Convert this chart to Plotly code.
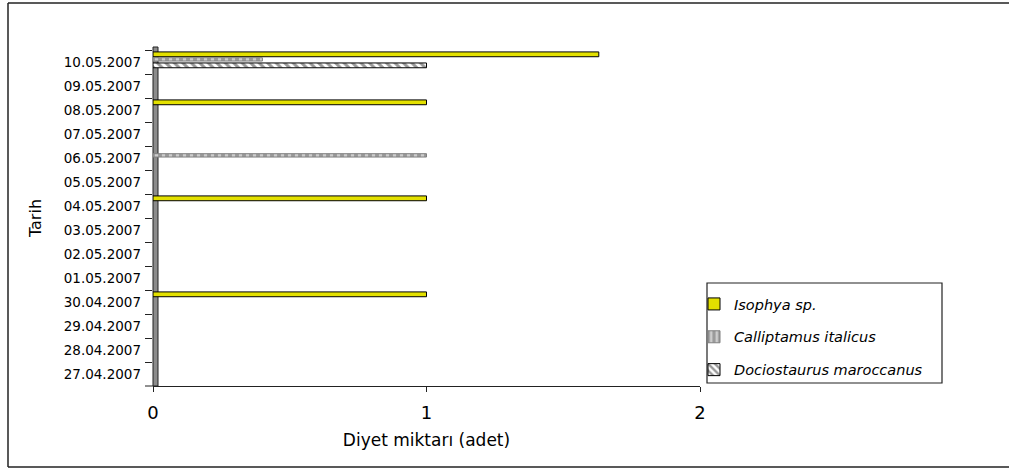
import plotly.graph_objects as go

# Categories (top to bottom as displayed)
dates = ["10.05.2007", "09.05.2007", "08.05.2007", "07.05.2007", "06.05.2007",
         "05.05.2007", "04.05.2007", "03.05.2007", "02.05.2007", "01.05.2007",
         "30.04.2007", "29.04.2007", "28.04.2007", "27.04.2007"]
isophya = [1.63, None, 1, None, None, None, 1, None, None, None, 1, None, None, None]
calliptamus = [0.4, None, None, None, 1, None, None, None, None, None, None, None, None, None]
dociostaurus = [1, None, None, None, None, None, None, None, None, None, None, None, None, None]
series_names = ["Isophya sp.", "Calliptamus italicus", "Dociostaurus maroccanus"]
x_ticks = [0, 1, 2]

L, R, T, B = 153, 700, 50, 386
W, H = 1009, 468
def px_x(p): return (p - L) / (R - L)
def px_y(p): return (B - p) / (B - T)

fig = go.Figure()
fig.add_trace(go.Bar(
    y=dates, x=isophya, orientation="h", name=series_names[0],
    width=0.2, offset=-0.42, legendgroup="a",
    marker=dict(color="#E3E000", line=dict(color="#000000", width=1)),
))
fig.add_trace(go.Bar(
    y=dates, x=calliptamus, orientation="h", name=series_names[1],
    width=0.14, offset=-0.18, legendgroup="b",
    marker=dict(color="#D8D8D8", line=dict(color="#808080", width=1),
                pattern=dict(shape="|", fgcolor="#FFFFFF", bgcolor="#9A9A9A", size=7, solidity=0.45)),
))
fig.add_trace(go.Bar(
    y=dates, x=dociostaurus, orientation="h", name=series_names[2],
    width=0.2, offset=0.04, legendgroup="c",
    marker=dict(color="#FFFFFF", line=dict(color="#000000", width=1),
                pattern=dict(shape="\\", fgcolor="#333333", bgcolor="#FFFFFF", size=6, solidity=0.5)),
))

border = dict(color="#222222", width=1.5)
shapes = [
    # outer chart border (left, top, bottom; right edge lies beyond the canvas)
    dict(type="line", xref="paper", yref="paper", x0=px_x(8), x1=px_x(8),
         y0=px_y(467), y1=px_y(3), line=border),
    dict(type="line", xref="paper", yref="paper", x0=px_x(8), x1=px_x(1009),
         y0=px_y(3), y1=px_y(3), line=border),
    dict(type="line", xref="paper", yref="paper", x0=px_x(8), x1=px_x(1009),
         y0=px_y(467), y1=px_y(467), line=border),
    # side wall
    dict(type="rect", xref="paper", yref="paper",
         x0=px_x(153), x1=px_x(158), y0=px_y(386), y1=px_y(47),
         line=dict(color="#222222", width=1), fillcolor="#8C8C8C", layer="below"),
    # extended x axis line to left
    dict(type="line", xref="paper", yref="paper",
         x0=px_x(145), x1=px_x(153), y0=0, y1=0,
         line=dict(color="#222222", width=1)),
    # legend box
    dict(type="rect", xref="paper", yref="paper",
         x0=px_x(707), x1=px_x(942), y0=px_y(383), y1=px_y(283),
         line=dict(color="#222222", width=1.2), fillcolor="rgba(0,0,0,0)"),
]

fig.update_layout(
    width=W, height=H,
    margin=dict(l=L, r=W - R, t=T, b=H - B),
    paper_bgcolor="white", plot_bgcolor="white",
    barmode="overlay",
    showlegend=True,
    legend=dict(x=px_x(694), y=px_y(288), xanchor="left", yanchor="top",
                traceorder="grouped", tracegroupgap=11, itemwidth=30,
                bgcolor="rgba(0,0,0,0)", borderwidth=0,
                font=dict(family="DejaVu Sans", size=14.5, color="#000000", style="italic")),
    shapes=shapes,
    font=dict(family="DejaVu Sans", color="#000000"),
)
fig.update_xaxes(
    range=[0, 2], tickvals=x_ticks, ticktext=[str(v) for v in x_ticks],
    showline=True, linecolor="#222222", linewidth=1,
    ticks="outside", ticklen=5, tickcolor="#222222", ticklabelstandoff=5,
    showgrid=False, zeroline=False,
    tickfont=dict(family="DejaVu Sans", size=18),
    title=dict(text="Diyet miktarı (adet)", font=dict(family="DejaVu Sans", size=17), standoff=12),
)
fig.update_yaxes(
    type="category", categoryorder="array", categoryarray=dates, autorange="reversed",
    showline=False, ticks="outside", ticklen=7, tickcolor="#222222", tickson="boundaries",
    ticklabelstandoff=11,
    showgrid=False, zeroline=False,
    tickfont=dict(family="DejaVu Sans", size=13.5),
    title=dict(text="Tarih", font=dict(family="DejaVu Sans", size=16), standoff=18),
)
fig.write_html("out.html")
